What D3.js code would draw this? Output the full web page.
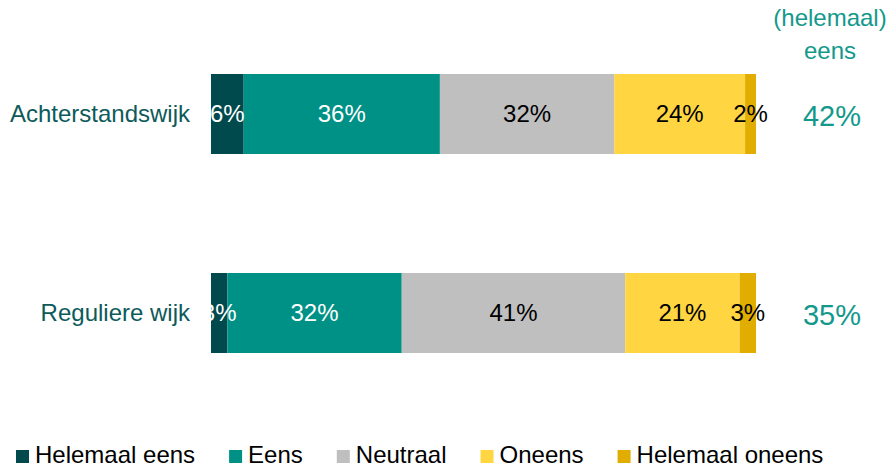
<!DOCTYPE html>
<html>
<head>
<meta charset="utf-8">
<script src="https://cdn.jsdelivr.net/npm/d3@7"></script>
<style>
body { margin: 0; background: #fff; }
svg { display: block; font-family: "Liberation Sans", Arial, sans-serif; }
</style>
</head>
<body>
<svg id="chart"></svg>
<script>
// data
var categories = ["Achterstandswijk", "Reguliere wijk"];
var seriesNames = ["Helemaal eens", "Eens", "Neutraal", "Oneens", "Helemaal oneens"];
var seriesColors = ["#004a4d", "#009186", "#bfbfbf", "#ffd541", "#e0ad00"];
var labelColors = ["#ffffff", "#ffffff", "#000000", "#000000", "#000000"];
var values = [
    [6, 36, 32, 24, 2],   // Achterstandswijk
    [3, 32, 41, 21, 3]    // Reguliere wijk
];
var totalsEens = [42, 35];
var totalsHeader = ["(helemaal)", "eens"];

var width = 895, height = 465;

var svg = d3.select("#chart")
    .attr("width", width)
    .attr("height", height);

var x = d3.scaleLinear().domain([0, 100]).range([211, 756]);
var y = d3.scaleBand().domain(categories).range([74, 353]).paddingInner(0.598).paddingOuter(0);

// stack rows
var rows = categories.map(function(c, i) {
    var acc = 0;
    return {
        cat: c,
        segs: values[i].map(function(v, j) {
            var s = {name: seriesNames[j], j: j, v: v, x0: acc, x1: acc + v};
            acc += v;
            return s;
        })
    };
});

var row = svg.selectAll(".row")
    .data(rows)
    .enter().append("g")
    .attr("class", "row")
    .attr("transform", function(d) { return "translate(0," + y(d.cat) + ")"; });

row.selectAll("rect")
    .data(function(d) { return d.segs; })
    .enter().append("rect")
    .attr("x", function(d) { return x(d.x0); })
    .attr("width", function(d) { return x(d.x1) - x(d.x0); })
    .attr("y", 0)
    .attr("height", y.bandwidth())
    .style("fill", function(d) { return seriesColors[d.j]; });

row.selectAll(".seglabel")
    .data(function(d) { return d.segs; })
    .enter().append("text")
    .attr("class", "seglabel")
    .attr("x", function(d) { return (x(d.x0) + x(d.x1)) / 2; })
    .attr("y", y.bandwidth() / 2)
    .attr("dy", "0.35em")
    .style("text-anchor", "middle")
    .style("font-size", "24px")
    .style("fill", function(d) { return labelColors[d.j]; })
    .text(function(d) { return d.v + "%"; });

// category labels
row.append("text")
    .attr("x", 190)
    .attr("y", y.bandwidth() / 2)
    .attr("dy", "0.35em")
    .style("text-anchor", "end")
    .style("font-size", "24px")
    .style("fill", "#0d5a5a")
    .text(function(d) { return d.cat; });

// totals on the right
row.append("text")
    .attr("x", 832)
    .attr("y", y.bandwidth() / 2 + 2)
    .attr("dy", "0.35em")
    .style("text-anchor", "middle")
    .style("font-size", "29px")
    .style("fill", "#13998c")
    .text(function(d, i) { return totalsEens[i] + "%"; });

svg.selectAll(".head")
    .data(totalsHeader)
    .enter().append("text")
    .attr("class", "head")
    .attr("x", 830)
    .attr("y", function(d, i) { return 26 + i * 33; })
    .style("text-anchor", "middle")
    .style("font-size", "24px")
    .style("fill", "#13998c")
    .text(function(d) { return d; });

// legend
var legend = svg.append("g").attr("class", "legend");
var lx = 16;
seriesNames.forEach(function(name, i) {
    var g = legend.append("g").attr("transform", "translate(" + lx + ",0)");
    g.append("rect")
        .attr("x", 0)
        .attr("y", 450)
        .attr("width", 13)
        .attr("height", 13)
        .style("fill", seriesColors[i]);
    var t = g.append("text")
        .attr("x", 19)
        .attr("y", 463)
        .style("font-size", "24px")
        .style("fill", "#000")
        .text(name);
    lx += 19 + t.node().getComputedTextLength() + 34;
});
</script>
</body>
</html>
